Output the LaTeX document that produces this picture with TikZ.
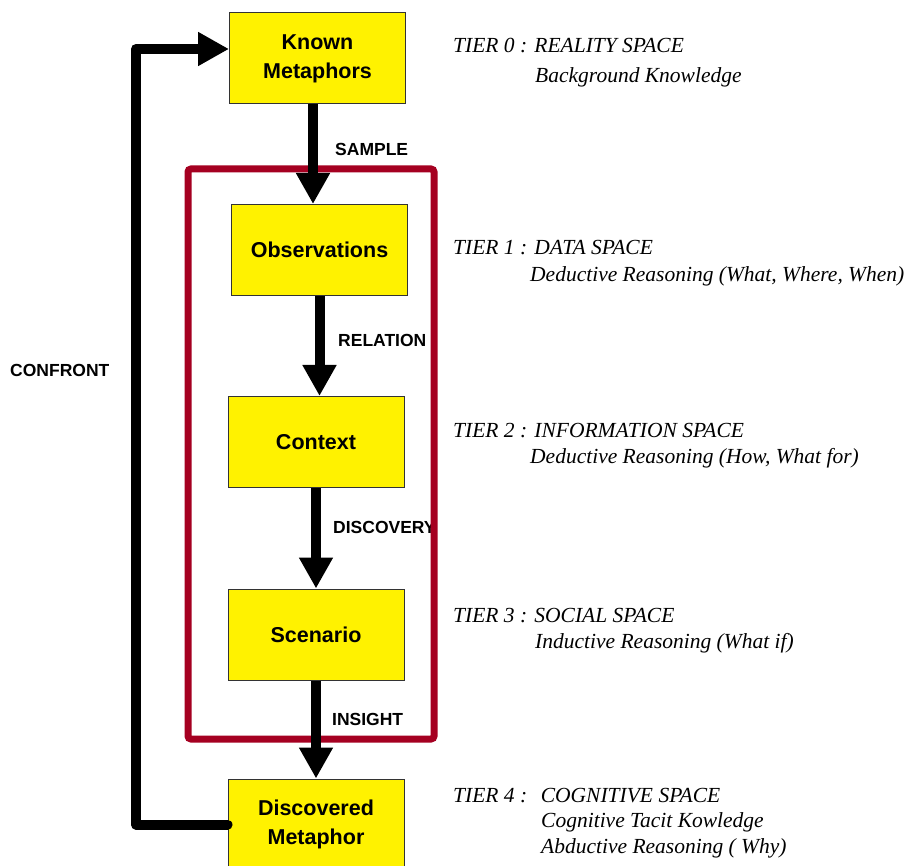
\documentclass[tikz,border=0pt]{standalone}
\usepackage{fontspec}
\setsansfont{Liberation Sans}
\newfontfamily\tierfont{Liberation Serif}
\usetikzlibrary{arrows.meta}
\usetikzlibrary{calc}

\definecolor{framered}{RGB}{165,0,33}

\tikzset{
	tierbox/.style={draw=black!80, line width=1pt, fill=yellow, minimum width=176pt, minimum height=91pt, align=center, font=\sffamily\bfseries\fontsize{21.5}{29}\selectfont},
	flow/.style={line width=10pt, -{Triangle[length=31pt,width=32pt]}},
	flowlabel/.style={anchor=west, inner sep=0pt, font=\sffamily\bfseries\fontsize{17.5}{19}\selectfont},
	tiertext/.style={anchor=base west, inner sep=0pt, font=\tierfont\itshape\fontsize{21.5}{24}\selectfont}
}

\begin{document}
\begin{tikzpicture}[x=1pt, y=-1pt]
	\useasboundingbox (0,0) rectangle (913,866);

	% the five tiers, top to bottom
	\node[tierbox] (known) at (317.5,58.5) {Known\\Metaphors};
	\node[tierbox] (obs) at (319.5,250) {Observations};
	\node[tierbox] (ctx) at (316,442) {Context};
	\node[tierbox] (scen) at (316,634.5) {Scenario};
	\node[tierbox] (disc) at (316,824.5) {Discovered\\Metaphor};

	% labels on the flow, CONFRONT on the loop
	\node[flowlabel] (lsample) at (335,149) {SAMPLE};
	\node[flowlabel] (lrelation) at (338,340) {RELATION};
	\node[flowlabel] (ldiscovery) at (333,527) {DISCOVERY};
	\node[flowlabel] (linsight) at (332,719) {INSIGHT};
	\node[flowlabel] (lconfront) at (10,370) {CONFRONT};

	% red frame round tiers 1 to 3 (drawn over DISCOVERY, under the arrows)
	\draw[framered, line width=7pt, rounded corners=3pt] (188,169) rectangle (434,739);

	% downward flow
	\draw[flow] (known.south -| 313,0) -- (obs.north -| 313,0);
	\draw[flow] (obs.south) -- (obs.south |- ctx.north);
	\draw[flow] (ctx.south) -- (ctx.south |- scen.north);
	\draw[flow] (scen.south) -- (scen.south |- disc.north);

	% confront loop back to the top
	\coordinate (ctop) at (136,49);
	\coordinate (cbot) at (disc.west -| ctop);
	\draw[flow, line cap=round, line join=round] (disc.west) -- (cbot) -- (ctop) -- (ctop -| known.west);

	% tier descriptions
	\node[tiertext] (t0a) at (453,52.7) {TIER 0 : REALITY SPACE};
	\node[tiertext] (t0b) at (535,82.7) {Background Knowledge};
	\node[tiertext] (t1a) at (453,255) {TIER 1 : DATA SPACE};
	\node[tiertext] (t1b) at (530,282) {Deductive Reasoning (What, Where, When)};
	\node[tiertext] (t2a) at (453,437) {TIER 2 : INFORMATION SPACE};
	\node[tiertext] (t2b) at (530,463) {Deductive Reasoning (How, What for)};
	\node[tiertext] (t3a) at (453,622) {TIER 3 : SOCIAL SPACE};
	\node[tiertext] (t3b) at (535,648) {Inductive Reasoning (What if)};
	\node[tiertext] (t4a) at (453,802) {TIER 4 :\hspace{0.3em} COGNITIVE SPACE};
	\node[tiertext] (t4b) at (541,827) {Cognitive Tacit Kowledge};
	\node[tiertext] (t4c) at (541,853) {Abductive Reasoning ( Why)};

\end{tikzpicture}
\end{document}
